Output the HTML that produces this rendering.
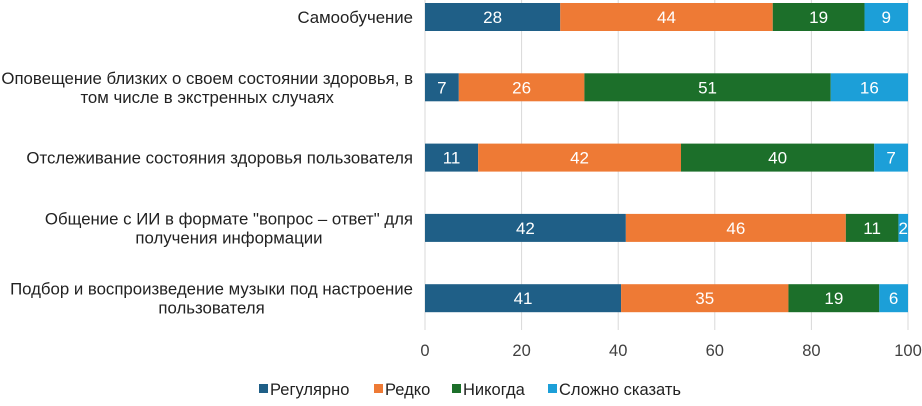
<!DOCTYPE html>
<html><head><meta charset="utf-8"><style>
body{margin:0;background:#fff;font-family:"Liberation Sans",sans-serif}
svg text{font-family:"Liberation Sans",sans-serif}
</style></head><body>
<svg id="c" width="922" height="401"></svg>
<script>
const categories=["Самообучение","Оповещение близких о своем состоянии здоровья, в|том числе в экстренных случаях","Отслеживание состояния здоровья пользователя","Общение с ИИ в формате \"вопрос – ответ\" для|получения информации","Подбор и воспроизведение музыки под  настроение|пользователя"];
const seriesNames=["Регулярно","Редко","Никогда","Сложно сказать"];
const regular=[28,7,11,42,41];
const rarely=[44,26,42,46,35];
const never=[19,51,40,11,19];
const hard=[9,16,7,2,6];
const ticks=[0,20,40,60,80,100];
const colors=["#1f5f87","#ee7a35","#1c6f2a","#1c9fd8"];
const NS="http://www.w3.org/2000/svg";
const svg=document.getElementById('c');
const x0=425,x1=908;
const xs=v=>x0+(x1-x0)*v/100;
const rowY=i=>3+i*70.3;
const bh=28;
function el(t,a,p){const e=document.createElementNS(NS,t);for(const k in a)e.setAttribute(k,a[k]);(p||svg).appendChild(e);return e;}
ticks.forEach(t=>{
 const g=el('line',{x1:xs(t),x2:xs(t),y1:0,y2:330,stroke:'#d9d9d9','stroke-width':1});
 
 
 const l=el('text',{x:xs(t),y:356,'text-anchor':'middle','font-size':16.5,fill:'#404040'});
 l.textContent=t;
 
 
});
const series=[regular,rarely,never,hard];
categories.forEach((c,i)=>{
 const y=rowY(i);
 const lines=c.split('|');
 const t=el('text',{'text-anchor':'middle','font-size':16.8,fill:'#222'});
 
 
 const spans=lines.map((ln,j)=>{const ts=el('tspan',{x:0,y:y+20+(lines.length>1?(j-0.5)*19:0)},t);ts.textContent=ln;return ts;});
 const w=Math.max(...spans.map(s=>s.getComputedTextLength()));
 const cx=Math.max(413-w/2,w/2+1);
 spans.forEach(s=>s.setAttribute('x',cx));
 let total=series.reduce((s,a)=>s+a[i],0),acc=0;
 series.forEach((arr,k)=>{
  const v=arr[i];const xa=xs(acc/total*100),xb=xs((acc+v)/total*100);acc+=v;
  const r=el('rect',{x:xa,y:y,width:xb-xa,height:bh,fill:colors[k]});
  
  
  const tx=el('text',{x:(xa+xb)/2,y:y+20,'text-anchor':'middle','font-size':17,fill:'#fff'});
  tx.textContent=v;
  
  
 });
});
const lx=[259,374,452,548];
seriesNames.forEach((n,k)=>{
 const g=el('g',{});
 
 
 el('rect',{x:lx[k],y:384,width:9,height:9,fill:colors[k]},g);
 const t=el('text',{x:lx[k]+11,y:395,'font-size':16.5,fill:'#222'},g);t.textContent=n;
});
</script>
</body></html>
